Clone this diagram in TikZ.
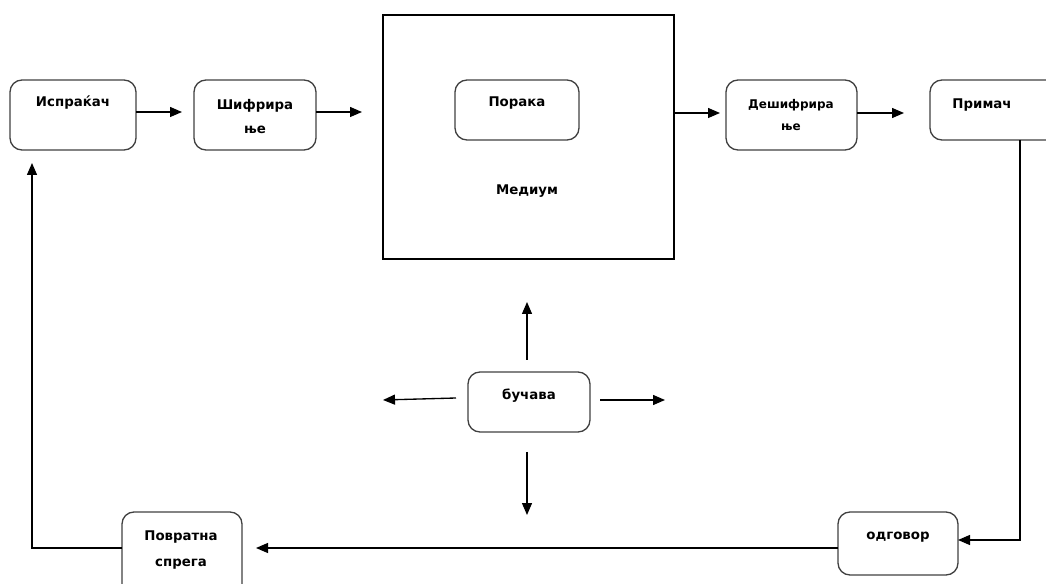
\documentclass[tikz,border=0pt]{standalone}
\usepackage{fontspec}
\setmainfont{DejaVu Sans}
\usetikzlibrary{arrows.meta}
\begin{document}
\begin{tikzpicture}[x=0.75pt,y=-0.75pt,
  rbox/.style={draw=black!75, line width=1pt, rounded corners=9pt},
  sqbox/.style={draw=black, line width=1pt},
  txt/.style={font=\bfseries\fontsize{10}{12}\selectfont, inner sep=0pt, align=center},
  stxt/.style={font=\bfseries\fontsize{9}{11}\selectfont, inner sep=0pt, align=center},
  arr/.style={line width=1pt, -{Triangle[length=9pt,width=7.5pt]}},
  ln/.style={line width=1pt}]
\useasboundingbox (0,0) rectangle (1046,584);
\clip (0,0) rectangle (1046,584);
% boxes
\draw[rbox] (10,80) rectangle (136,150);
\node[txt] (isp) at (73,103) {Испраќач};
\coordinate (ispE) at (136,112);
\coordinate (ispS) at (32,150);

\draw[rbox] (194,80) rectangle (316,150);
\node[txt] (sif) at (255,117) {Шифрира\\[6pt]ње};
\coordinate (sifW) at (194,112);
\coordinate (sifE) at (316,112);

\draw[sqbox] (383,15) rectangle (674,259);
\node[txt] (med) at (527,191) {Медиум};
\coordinate (medW) at (383,112);
\coordinate (medE) at (674,113);

\draw[rbox] (455,80) rectangle (579,140);
\node[txt] (por) at (517,103) {Порака};

\draw[rbox] (726,80) rectangle (857,150);
\node[stxt] (des) at (791,115) {Дешифрира\\[5pt]ње};
\coordinate (desW) at (726,113);
\coordinate (desE) at (857,113);

\draw[rbox] (930,80) rectangle (1060,140);
\node[txt] (pri) at (982,105) {Примач};
\coordinate (priS) at (1020,140);

\draw[rbox] (468,372) rectangle (590,432);
\node[txt] (buc) at (529,396) {бучава};

\draw[rbox] (838,512) rectangle (958,575);
\node[txt] (odg) at (898,537) {одговор};
\coordinate (odgE) at (958,540);
\coordinate (odgW) at (838,548);

\draw[rbox] (122,512) rectangle (242,596);
\node[txt] (pov) at (181,550) {Повратна\\[7pt]спрега};
\coordinate (povW) at (122,548);
\coordinate (povE) at (242,548);

% connectors
\draw[arr] (ispE) -- (182,112);
\draw[arr] (sifE) -- (362,112);
\draw[arr] (medE) -- (720,113);
\draw[arr] (desE) -- (904,113);
\draw[arr] (priS) -- (1020,540) -- (odgE);
\draw[arr] (odgW) -- (256,548);
\draw[arr] (povW) -- (32,548) -- (32,163);

% noise arrows
\coordinate (bN) at (527,360);
\coordinate (bS) at (527,452);
\coordinate (bW) at (456,398);
\coordinate (bE) at (600,400);
\draw[arr] (bN) -- (527,302);
\draw[arr] (bS) -- (527,515);
\draw[arr] (bW) -- (383,400);
\draw[arr] (bE) -- (665,400);
\end{tikzpicture}
\end{document}
